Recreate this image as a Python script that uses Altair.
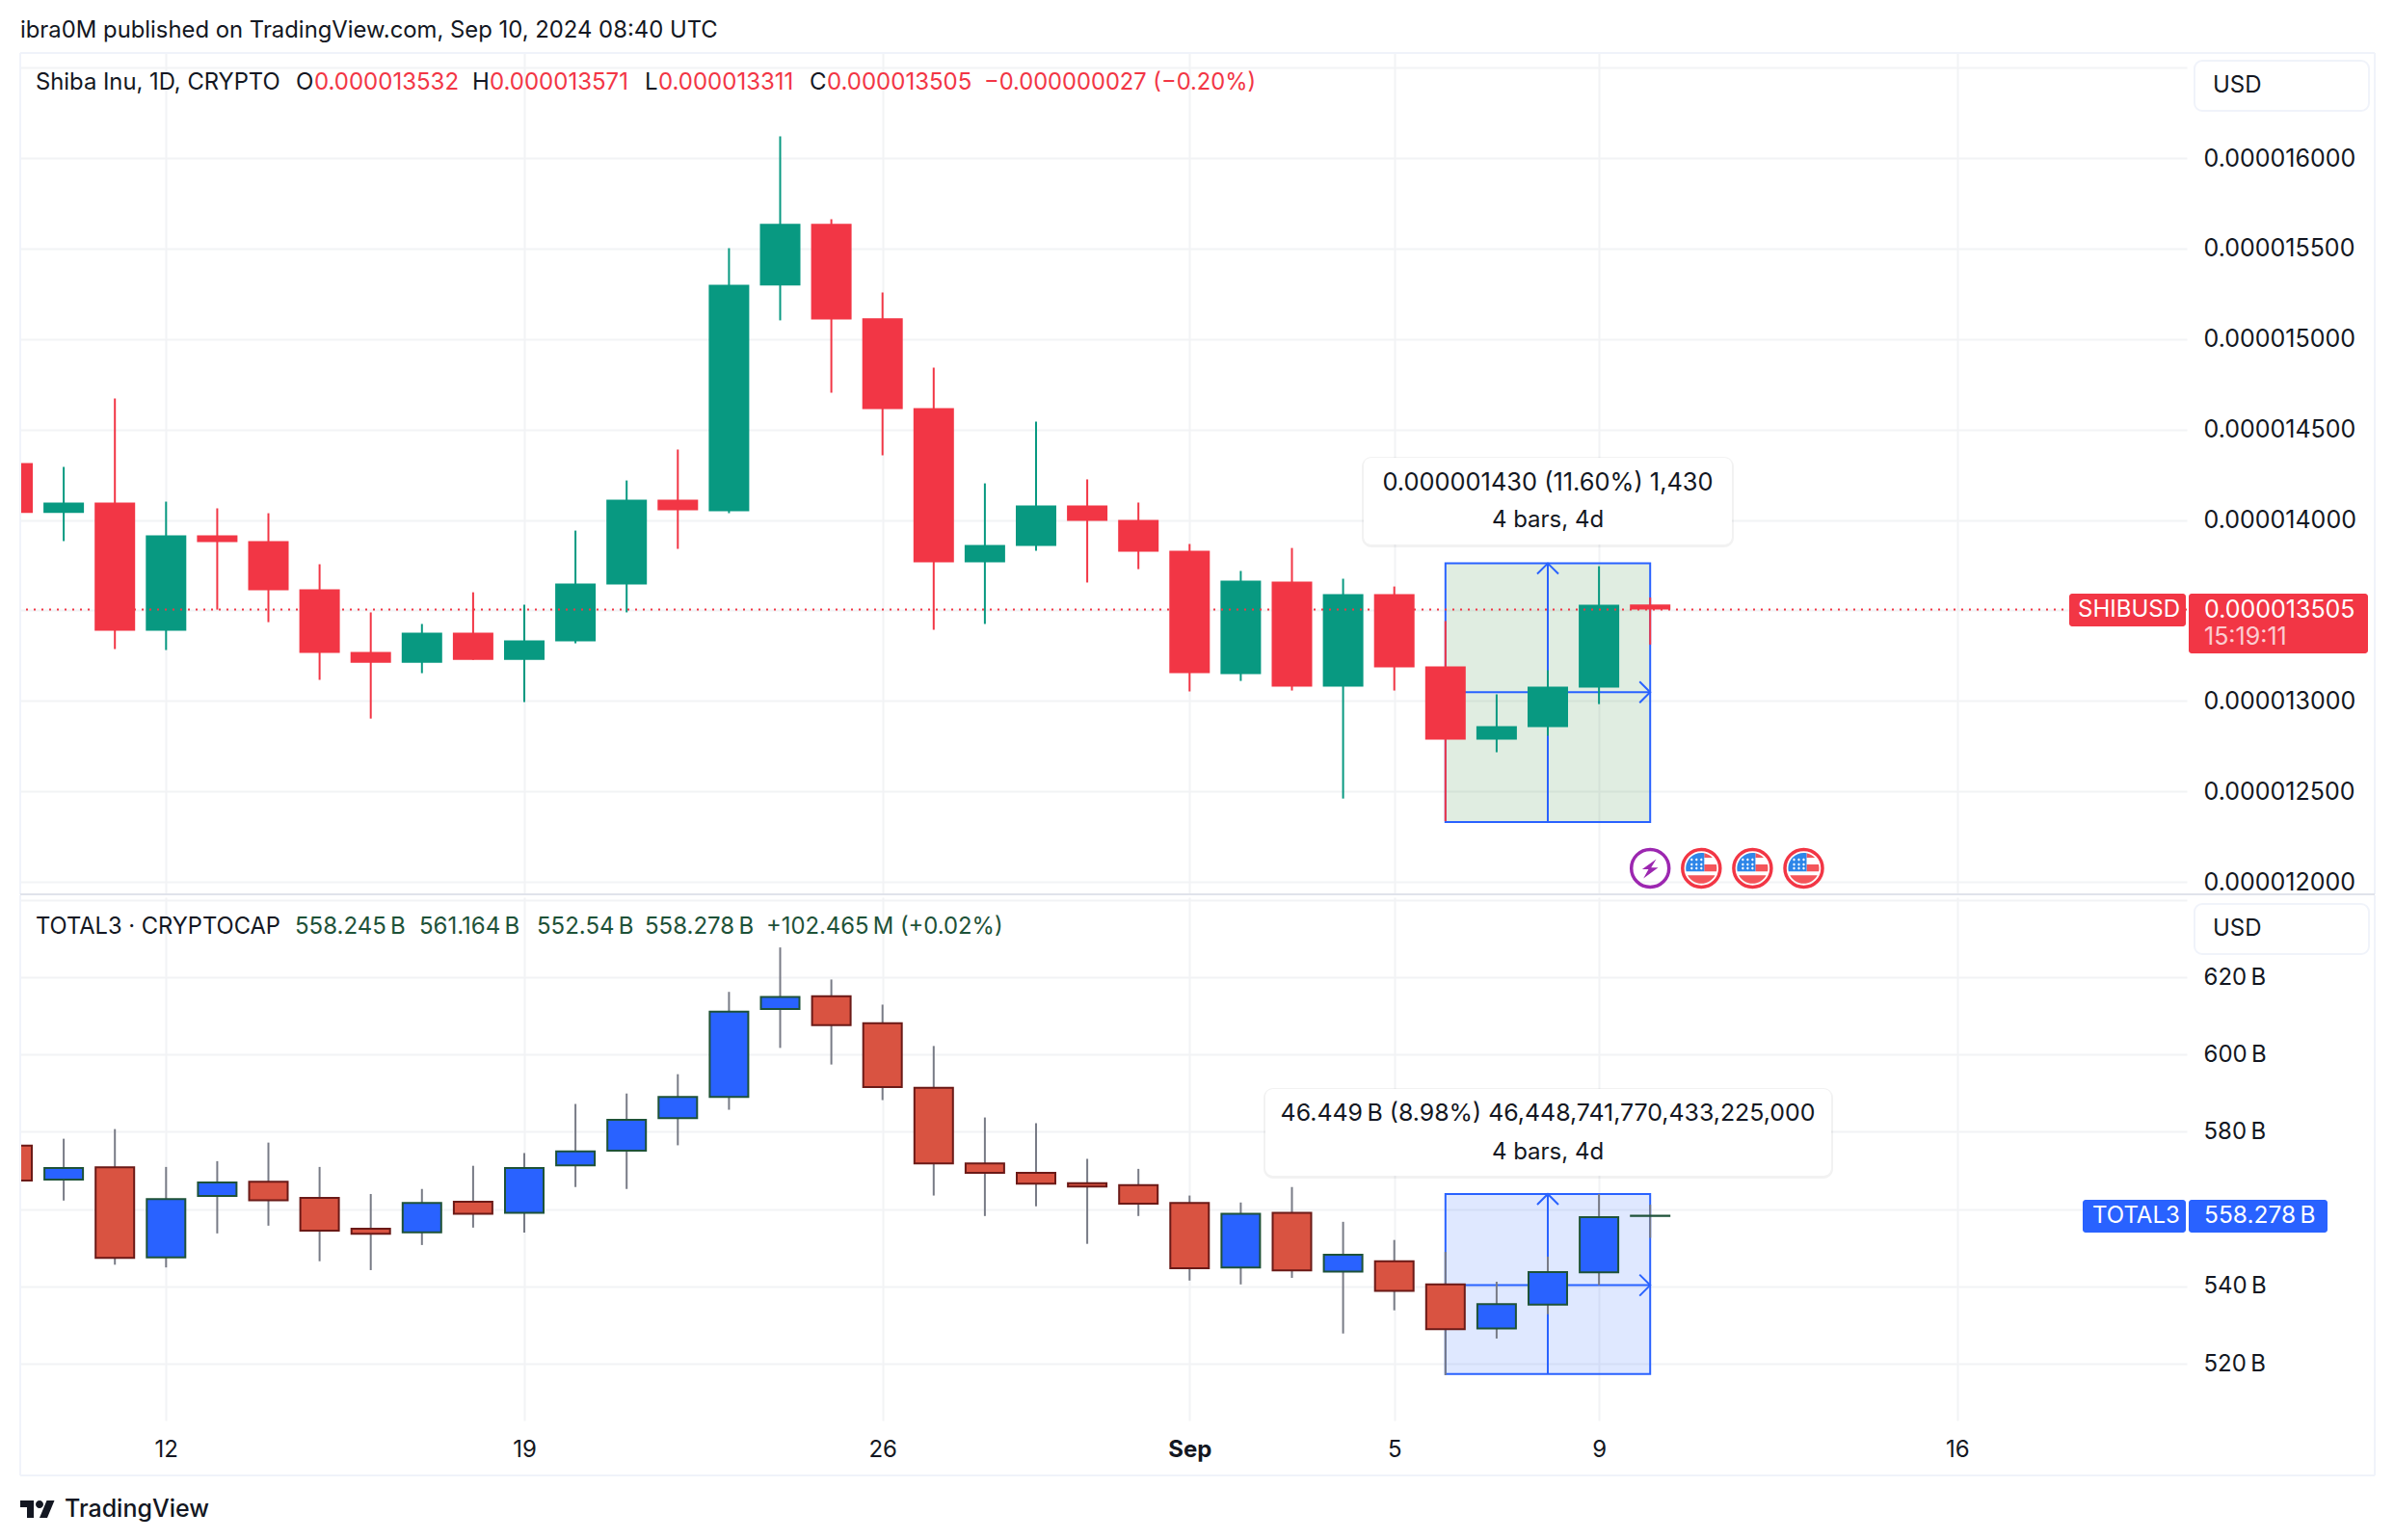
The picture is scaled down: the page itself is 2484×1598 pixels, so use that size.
import altair as alt
import pandas as pd

# ---- values ----
DAYS = list(range(-3, 30))  # days counted from Aug 12, 2024
SHIB_OPEN = [14314,14039,14096,13387,13915,13883,13616,13270,13211,13377,13227,13329,13643,14112,14048,15295,15636,15114,14618,13766,13856,14080,14000,13830,13148,13659,13078,13590,13190,12785,12855,13073,13532]
SHIB_HIGH = [14314,14293,14671,14101,14064,14037,13755,13489,13425,13600,13531,13941,14218,14389,15502,16120,15662,15257,14842,14202,14543,14224,14096,13867,13718,13845,13675,13632,13441,13036,13169,13744,13571]
SHIB_LOW = [14039,13883,13286,13281,13504,13435,13116,12902,13153,13227,12993,13318,13489,13840,14037,15103,14703,14357,13393,13425,13830,13654,13728,13052,13110,13057,12460,13057,12335,12716,12807,12982,13311]
SHIB_CLOSE = [14039,14096,13387,13915,13877,13611,13265,13211,13377,13227,13334,13648,14112,14053,15300,15636,15108,14613,13766,13861,14080,13995,13824,13153,13664,13078,13590,13185,12785,12860,13078,13531,13505]

T3_OPEN = [576.4,567.6,570.8,547.5,563.4,567.1,562.9,554.9,554.0,561.9,559.0,571.3,575.1,583.5,589.0,611.8,615.1,608.1,591.4,571.8,569.4,566.7,566.2,561.6,544.9,559.0,543.8,546.5,540.5,529.1,535.3,543.6,558.245]
T3_HIGH = [576.4,578.2,580.7,570.9,572.4,577.2,570.9,563.9,565.2,571.2,574.5,587.2,589.9,594.9,616.2,627.7,619.4,612.9,602.2,583.7,582.2,573.0,570.4,563.5,561.7,565.7,556.7,552.0,548.9,541.2,547.7,563.9,561.164]
T3_LOW = [567.4,562.2,545.6,544.9,553.7,555.7,546.5,544.2,550.7,555.2,553.9,565.7,565.2,576.5,585.7,601.7,597.4,588.2,563.5,558.2,560.7,551.0,558.2,541.5,540.5,542.2,527.8,533.8,517.0,526.5,532.8,540.3,552.54]
T3_CLOSE = [567.4,570.6,547.4,562.6,566.9,562.3,554.4,553.6,561.6,558.8,570.6,574.9,583.1,589.0,611.1,614.9,607.6,591.6,571.8,569.4,566.6,565.8,561.4,544.7,558.8,544.1,548.2,538.8,528.9,535.4,543.7,557.9,558.278]

SHIB_TICKS = [12000,12500,13000,13500,14000,14500,15000,15500,16000,16500]
T3_TICKS = [520,540,560,580,600,620,640]
X_TICKS = [0,7,14,20,24,28,35]
X_LABELS = ["12","19","26","Sep","5","9","16"]

SHIB_LAST = 13505
SHIB_RANGE = dict(start=25, end=29, low=12330, high=13760, mid=13048, centre=27)
T3_RANGE = dict(start=25, end=29, low=517.3, high=563.9, mid=540.3, centre=27)
EVENT_DAYS = [29,30,31,32]
EVENT_LEVEL = 12075

# ---- styles ----
INK = "#131722"
RED = "#f23645"
GREEN = "#089981"
BLUE = "#2962ff"
GRID = "#f2f3f5"
FRAME = "#f0f3fa"
T3_RED = "#d95341"
T3_RED_EDGE = "#6b1a17"
T3_EDGE_UP = "#1e5238"
WICK = "#787b86"
FONT = "Inter"

LEFT, PLOT_RIGHT, FRAME_RIGHT = 20, 2268, 2463
TOP1, BOT1 = 54, 927
TOP2, BOT2 = 929, 1472
W = PLOT_RIGHT - LEFT
PX_PER_DAY = 53.1
X0 = 171.3
xdom = [(LEFT - X0) / PX_PER_DAY, (PLOT_RIGHT - X0) / PX_PER_DAY]
xs = alt.Scale(domain=xdom, nice=False, zero=False, padding=0)
ys1 = alt.Scale(domain=[16000 - (BOT1 - 163) / 0.18775, 16000 + (163 - TOP1) / 0.18775], nice=False, zero=False, padding=0)
ys2 = alt.Scale(domain=[620 - (BOT2 - 1012) / 4.01, 620 + (1012 - TOP2) / 4.01], nice=False, zero=False, padding=0)
ONE = alt.Data(values=[{"a": 1}])


def txt(s, x, y, top, color=INK, size=24, align="left", weight=400, opacity=1.0):
    return alt.Chart(ONE).mark_text(text=s, align=align, baseline="middle", font=FONT, fontSize=size,
                                    color=color, fontWeight=weight, opacity=opacity).encode(
        x=alt.value(x - LEFT), y=alt.value(y - top))


def box(x1, y1, x2, y2, top, fill, stroke=None, radius=0, sw=2, opacity=1.0):
    kw = dict(fill=fill, cornerRadius=radius, opacity=opacity)
    if stroke:
        kw.update(stroke=stroke, strokeWidth=sw)
    return alt.Chart(ONE).mark_rect(**kw).encode(
        x=alt.value(x1 - LEFT), x2=alt.value(x2 - LEFT), y=alt.value(y1 - top), y2=alt.value(y2 - top))


def line(x1, y1, x2, y2, top, color=FRAME, sw=2):
    return alt.Chart(ONE).mark_rule(color=color, strokeWidth=sw).encode(
        x=alt.value(x1 - LEFT), x2=alt.value(x2 - LEFT), y=alt.value(y1 - top), y2=alt.value(y2 - top))


def candles(o, h, l, c):
    return pd.DataFrame({"d": DAYS, "o": o, "h": h, "l": l, "c": c})


def x_axis(labels):
    lookup = "{" + ",".join(f"'{v}':'{t}'" for v, t in zip(X_TICKS, X_LABELS)) + "}"
    kw = dict(values=X_TICKS, title=None, grid=True, gridColor=GRID, gridWidth=2, domain=False, ticks=False)
    if labels:
        kw.update(labelExpr=lookup + "[datum.value]", labelFont=FONT, labelFontSize=24, labelColor=INK,
                  labelPadding=18, labelFontWeight={"condition": {"test": "datum.value == 20", "value": 700}, "value": 400})
    else:
        kw.update(labels=False)
    return alt.Axis(**kw)


def y_axis(values, expr, size):
    return alt.Axis(values=values, title=None, orient="right", grid=True, gridColor=GRID, gridWidth=2, domain=False,
                    ticks=False, labelExpr=expr, labelFont=FONT, labelFontSize=size, labelColor=INK, labelPadding=17,
                    labelAlign="left", labelBaseline="middle")


def measure(rng, ys, fill, fill_opacity, xa, ya):
    df = pd.DataFrame([rng])
    rect = alt.Chart(df).mark_rect(fill=fill, fillOpacity=fill_opacity, stroke=BLUE, strokeWidth=2).encode(
        x=alt.X("start:Q", scale=xs, axis=xa), x2="end:Q", y=alt.Y("low:Q", scale=ys, axis=ya), y2="high:Q")
    hline = alt.Chart(df).mark_rule(color=BLUE, strokeWidth=2).encode(
        x=alt.X("start:Q", scale=xs, axis=xa), x2="end:Q", y=alt.Y("mid:Q", scale=ys, axis=ya))
    vline = alt.Chart(df).mark_rule(color=BLUE, strokeWidth=2).encode(
        x=alt.X("centre:Q", scale=xs, axis=xa), y=alt.Y("low:Q", scale=ys, axis=ya), y2="high:Q")
    chevron = "M-1,1L0,0L1,1"
    up = alt.Chart(df).mark_point(shape=chevron, size=484, filled=False, stroke=BLUE, strokeWidth=2, opacity=1).encode(
        x=alt.X("centre:Q", scale=xs, axis=xa), y=alt.Y("high:Q", scale=ys, axis=ya))
    right = alt.Chart(df).mark_point(shape=chevron, size=484, filled=False, stroke=BLUE, strokeWidth=2, opacity=1, angle=90).encode(
        x=alt.X("end:Q", scale=xs, axis=xa), y=alt.Y("mid:Q", scale=ys, axis=ya))
    return [rect, hline, vline, up, right]


def candle_layers(df, ys, xa, ya, up_fill, dn_fill, up_edge, dn_edge, up_wick, dn_wick, size, sw):
    out = []
    for sel, fill, edge, wick in ((df[df.c >= df.o], up_fill, up_edge, up_wick), (df[df.c < df.o], dn_fill, dn_edge, dn_wick)):
        X = alt.X("d:Q", scale=xs, axis=xa)
        w = alt.Chart(sel).mark_rule(color=wick, strokeWidth=2, clip=True).encode(
            x=X, y=alt.Y("l:Q", scale=ys, axis=ya), y2="h:Q")
        kw = dict(stroke=edge, strokeWidth=sw) if sw else {}
        b = alt.Chart(sel).mark_bar(size=size, color=fill, clip=True, **kw).encode(
            x=X, y=alt.Y("o:Q", scale=ys, axis=ya), y2="c:Q")
        out += [w, b]
    return out


# ---- top pane ----
xa1 = x_axis(False)
# the 13500 label sits under the last-price box and 16500 under the USD box, so only their grid lines show
ya1 = y_axis(SHIB_TICKS, "datum.value > 16000 || datum.value == 13500 ? '' : format(datum.value / 1e9, '.9f')", 25)
shib = candles(SHIB_OPEN, SHIB_HIGH, SHIB_LOW, SHIB_CLOSE)
top = []
top += measure(SHIB_RANGE, ys1, "#308737", 0.15, xa1, ya1)
top += candle_layers(shib, ys1, xa1, ya1, GREEN, RED, None, None, GREEN, RED, 42, 0)
top.append(alt.Chart(pd.DataFrame({"v": [SHIB_LAST]})).mark_rule(color=RED, strokeWidth=2, strokeDash=[2, 6]).encode(
    y=alt.Y("v:Q", scale=ys1, axis=ya1)))

# event badges
ev = pd.DataFrame({"d": EVENT_DAYS, "v": [EVENT_LEVEL] * 4})
evX = alt.X("d:Q", scale=xs, axis=xa1)
evY = alt.Y("v:Q", scale=ys1, axis=ya1)
BOLT = "M6.3,-9.3L-8.3,1L-1.7,1L-7,10.7L8.3,-0.7L1,-0.7Z"
FLAG_BLUE = "M3,3.3L-15.7,3.3A16,16 0 0 1 3,-15.7Z"
FLAG_RED = ("M3,-15.7A16,16 0 0 1 11.6,-11L3,-11Z"
            "M3,-4L15.5,-4A16,16 0 0 1 15.7,3.3L3,3.3Z"
            "M-14.2,7.3L14.2,7.3A16,16 0 0 1 -14.2,7.3Z")
STARS = "".join(f"M{x-1.5},{y}L{x},{y-1.5}L{x+1.5},{y}L{x},{y+1.5}Z" for x in (-10, -5, 0) for y in (-9, -4, 0))
top.append(alt.Chart(ev.iloc[:1]).mark_point(shape="circle", size=1521, filled=False, stroke="#9c27b0", strokeWidth=3.5, opacity=1).encode(x=evX, y=evY))
top.append(alt.Chart(ev.iloc[:1]).mark_point(shape=BOLT, size=4, filled=True, color="#9c27b0", opacity=1).encode(x=evX, y=evY))
flags = ev.iloc[1:]
top.append(alt.Chart(flags).mark_point(shape="circle", size=1521, filled=False, stroke=RED, strokeWidth=3.5, opacity=1).encode(x=evX, y=evY))
top.append(alt.Chart(flags).mark_point(shape=FLAG_RED, size=4, filled=True, color="#f4555a", opacity=1).encode(x=evX, y=evY))
top.append(alt.Chart(flags).mark_point(shape=FLAG_BLUE, size=4, filled=True, color="#2e86e8", opacity=1).encode(x=evX, y=evY))
top.append(alt.Chart(flags).mark_point(shape=STARS, size=4, filled=True, color="#ffffff", opacity=1).encode(x=evX, y=evY))

T = TOP1
top += [
    txt("ibra0M published on TradingView.com, Sep 10, 2024 08:40 UTC", LEFT, 31, T, size=23.85),
    line(LEFT, T, FRAME_RIGHT, T, T),
    line(LEFT, T, LEFT, BOT1, T),
    line(FRAME_RIGHT, T, FRAME_RIGHT, BOT1, T),
    line(LEFT, BOT1, FRAME_RIGHT, BOT1, T, color="#e0e3eb"),
    txt("Shiba Inu, 1D, CRYPTO", 36, 85, T, size=23.8),
    txt("O", 306, 85, T), txt("0.000013532", 325, 85, T, RED),
    txt("H", 489, 85, T), txt("0.000013571", 507, 85, T, RED),
    txt("L", 668, 85, T), txt("0.000013311", 682, 85, T, RED),
    txt("C", 839, 85, T), txt("0.000013505", 857, 85, T, RED),
    txt("\u22120.000000027 (\u22120.20%)", 1020, 85, T, RED, size=23.7),
    box(2276, 62, 2457, 114, T, "#ffffff", FRAME, 8),
    txt("USD", 2295, 88, T),
    box(2146, 615, 2267, 649, T, RED, None, 3),
    txt("SHIBUSD", 2155, 632, T, "#ffffff"),
    box(2270, 615, 2456, 677, T, RED, None, 3),
    txt("0.000013505", 2286, 632, T, "#ffffff", size=25),
    txt("15:19:11", 2286, 660, T, "#ffffff", size=25, opacity=0.75),
    box(1412, 473, 1798, 567, T, "#000000", None, 10, opacity=0.05),
    box(1414, 474, 1796, 564, T, "#ffffff", None, 8),
    txt("0.000001430 (11.60%) 1,430", 1605, 500, T, size=25.4, align="center"),
    txt("4 bars, 4d", 1605, 539, T, size=24, align="center"),
]
top_chart = alt.layer(*top).properties(width=W, height=BOT1 - TOP1)

# ---- bottom pane ----
xa2 = x_axis(True)
# the 560 label sits under the last-value box and 640 above the pane, so only their grid lines show
ya2 = y_axis(T3_TICKS, "datum.value > 620 || datum.value == 560 ? '' : datum.value + '\u2009B'", 24)
t3 = candles(T3_OPEN, T3_HIGH, T3_LOW, T3_CLOSE)
bot = []
bot += measure(T3_RANGE, ys2, BLUE, 0.15, xa2, ya2)
bot += candle_layers(t3, ys2, xa2, ya2, BLUE, T3_RED, T3_EDGE_UP, T3_RED_EDGE, WICK, WICK, 40, 2)

T = TOP2
bot += [
    line(LEFT, T - 2, LEFT, 1529, T),
    line(FRAME_RIGHT, T - 2, FRAME_RIGHT, 1529, T),
    line(LEFT, 1529, FRAME_RIGHT, 1529, T),
    txt("TOTAL3 \u00b7 CRYPTOCAP", 36, 960, T, size=23.7),
    txt("558.245\u2009B", 305, 960, T, T3_EDGE_UP),
    txt("561.164\u2009B", 434, 960, T, T3_EDGE_UP),
    txt("552.54\u2009B", 556, 960, T, T3_EDGE_UP),
    txt("558.278\u2009B", 668, 960, T, T3_EDGE_UP),
    txt("+102.465\u2009M (+0.02%)", 794, 960, T, T3_EDGE_UP, size=23.8),
    box(2276, 936, 2457, 988, T, "#ffffff", FRAME, 8),
    txt("USD", 2295, 962, T),
    box(2160, 1243, 2267, 1277, T, BLUE, None, 3),
    txt("TOTAL3", 2170, 1260, T, "#ffffff"),
    box(2270, 1243, 2414, 1277, T, BLUE, None, 3),
    txt("558.278\u2009B", 2286, 1260, T, "#ffffff", size=24.5),
    box(1310, 1127, 1901, 1221, T, "#000000", None, 10, opacity=0.05),
    box(1312, 1128, 1899, 1218, T, "#ffffff", None, 8),
    txt("46.449\u2009B (8.98%) 46,448,741,770,433,225,000", 1605, 1154, T, size=24.9, align="center"),
    txt("4 bars, 4d", 1605, 1194, T, size=24, align="center"),
    alt.Chart(ONE).mark_point(shape="M14 22H7V11H0V4h14v18zM28 22h-8l7.5-18h8L28 22zM24 8a4 4 0 1 1-8 0 4 4 0 0 1 8 0z",
                              size=4, filled=True, color=INK, opacity=1).encode(x=alt.value(0), y=alt.value(1551 - T)),
    txt("TradingView", 66, 1564, T, size=25, weight=500),
]
bot_chart = alt.layer(*bot).properties(width=W, height=BOT2 - TOP2)

chart = alt.vconcat(top_chart, bot_chart, spacing=-1).properties(
    padding={"left": 12, "top": 12, "right": 0, "bottom": 0}, background="#ffffff"
).configure_view(stroke=None)

chart.save("out.html", embed_options={"renderer": "svg", "actions": False})
